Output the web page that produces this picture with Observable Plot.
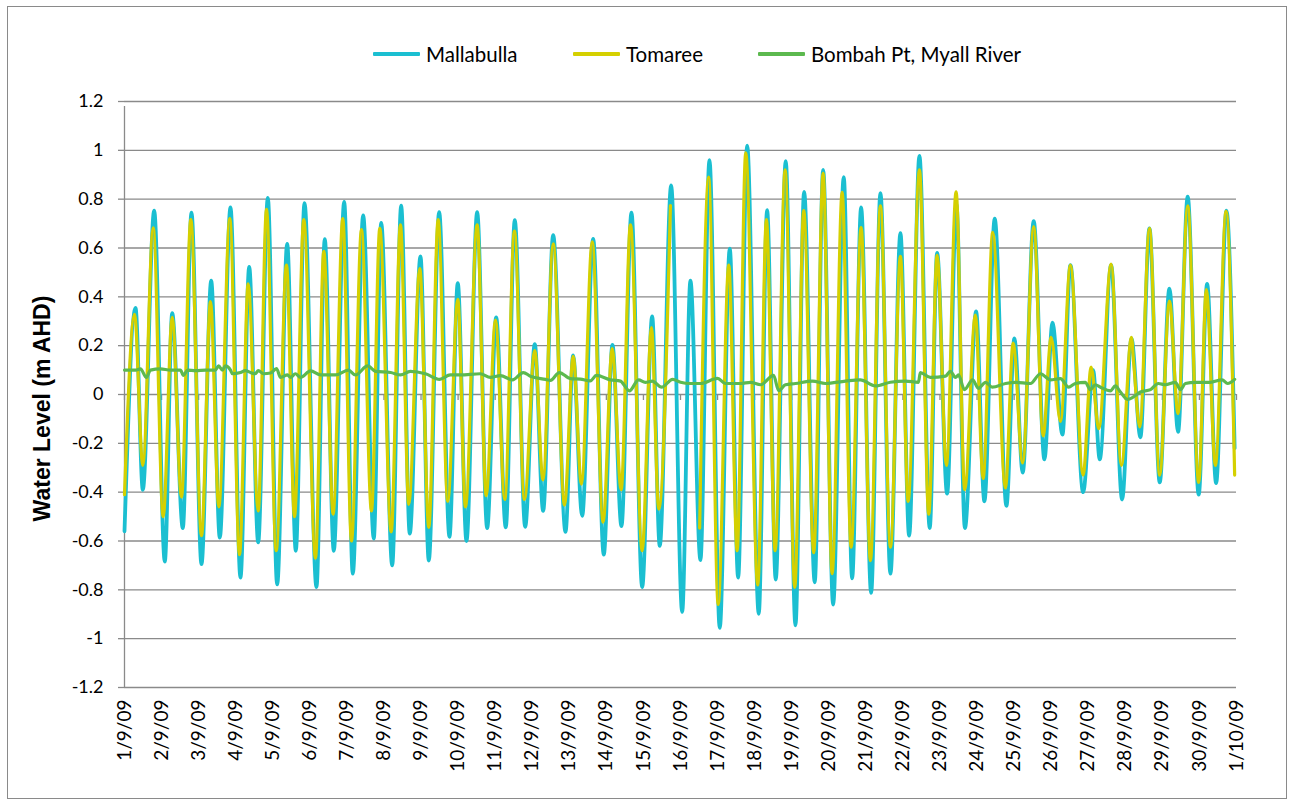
<!DOCTYPE html>
<html>
<head>
<meta charset="utf-8">
<script src="https://cdn.jsdelivr.net/npm/d3@7"></script>
<script src="https://cdn.jsdelivr.net/npm/@observablehq/plot@0.6"></script>
<style>
  html, body { margin: 0; padding: 0; background: #fff; }
  #wrap { position: relative; width: 1294px; height: 805px; overflow: hidden; }
  #border { position: absolute; left: 7px; top: 6px; width: 1280px; height: 793px; border: 1px solid #8a8a8a; box-sizing: border-box; }
  #chart { position: absolute; left: 0; top: 0; }
  .item { position: absolute; top: 42px; height: 24px; display: flex; align-items: center; font-family: Lato, "Open Sans", sans-serif; font-size: 20.5px; color: #000; white-space: nowrap; }
  .swatch { width: 47px; height: 4px; margin-right: 6px; border-radius: 1px; }
</style>
</head>
<body>
<div id="wrap">
  <div id="border"></div>
  <div id="chart"></div>
  <div id="legend"></div>
</div>
<script>
// ---------- data ----------
const seriesNames = ["Mallabulla", "Tomaree", "Bombah Pt, Myall River"];
const seriesColors = ["#1bbfd1", "#d5d000", "#5cb94f"];

const tickLabels = ["1/9/09","2/9/09","3/9/09","4/9/09","5/9/09","6/9/09","7/9/09","8/9/09","9/9/09","10/9/09",
  "11/9/09","12/9/09","13/9/09","14/9/09","15/9/09","16/9/09","17/9/09","18/9/09","19/9/09","20/9/09",
  "21/9/09","22/9/09","23/9/09","24/9/09","25/9/09","26/9/09","27/9/09","28/9/09","29/9/09","30/9/09","1/10/09"];
const yTicks = [-1.2, -1, -0.8, -0.6, -0.4, -0.2, 0, 0.2, 0.4, 0.6, 0.8, 1, 1.2];

// days after 1/9/09 00:00 and water level (m AHD) at each tidal turning point
const mallabullaDay = [0.0,0.297,0.494,0.801,1.087,1.287,1.573,1.807,2.077,2.339,2.571,2.859,3.129,3.364,3.607,3.866,4.119,4.389,4.621,4.856,
  5.179,5.403,5.646,5.927,6.159,6.439,6.725,6.925,7.222,7.464,7.696,7.985,8.209,8.489,8.767,8.991,9.226,9.514,9.784,10.027,
  10.286,10.529,10.809,11.068,11.295,11.565,11.897,12.104,12.347,12.644,12.930,13.164,13.407,13.677,13.966,14.235,14.440,14.748,15.045,15.268,
  15.538,15.781,16.059,16.329,16.555,16.798,17.111,17.337,17.569,17.839,18.101,18.335,18.621,18.848,19.118,19.404,19.630,19.873,20.143,20.394,
  20.664,20.933,21.168,21.446,21.724,21.923,22.193,22.444,22.673,22.975,23.199,23.477,23.793,24.008,24.232,24.529,24.818,25.034,25.304,25.519,
  25.862,26.132,26.310,26.617,26.914,27.165,27.408,27.651,27.928,28.190,28.424,28.683,28.980,29.207,29.450,29.728,29.95];
const mallabullaLevel = [-0.56,0.355,-0.39,0.753,-0.684,0.333,-0.547,0.745,-0.695,0.466,-0.586,0.766,-0.75,0.523,-0.606,0.805,-0.778,0.617,-0.64,0.784,
  -0.789,0.636,-0.64,0.789,-0.734,0.734,-0.59,0.703,-0.7,0.773,-0.57,0.566,-0.68,0.747,-0.583,0.456,-0.6,0.747,-0.547,0.316,
  -0.544,0.714,-0.542,0.206,-0.477,0.653,-0.5625,0.16,-0.497,0.6375,-0.656,0.203,-0.539,0.745,-0.789,0.32,-0.62,0.856,-0.89,0.466,
  -0.678,0.96,-0.956,0.597,-0.75,1.019,-0.898,0.755,-0.758,0.956,-0.945,0.83,-0.769,0.92,-0.86,0.89,-0.753,0.766,-0.8125,0.825,
  -0.734,0.661,-0.578,0.977,-0.547,0.58,-0.406,0.78,-0.547,0.34,-0.4375,0.72,-0.456,0.23,-0.32,0.71,-0.266,0.294,-0.164,0.53,
  -0.4,0.1,-0.266,0.53,-0.43,0.23,-0.175,0.68,-0.36,0.434,-0.153,0.81,-0.41,0.453,-0.3625,0.753,-0.22];

const tomareeDay = [0.0,0.27,0.494,0.774,1.044,1.287,1.538,1.789,2.077,2.320,2.544,2.841,3.102,3.337,3.607,3.831,4.092,4.370,4.586,4.837,
  5.152,5.377,5.629,5.889,6.124,6.393,6.663,6.887,7.195,7.445,7.669,7.966,8.209,8.462,8.721,8.991,9.199,9.514,9.757,10.008,
  10.259,10.520,10.790,11.068,11.29,11.565,11.870,12.104,12.328,12.617,12.913,13.156,13.399,13.650,13.966,14.216,14.413,14.729,15.1,15.517,
  15.760,16.016,16.302,16.528,16.760,17.084,17.318,17.553,17.823,18.082,18.325,18.594,18.848,19.091,19.361,19.603,19.873,20.124,20.394,20.664,
  20.933,21.141,21.446,21.697,21.923,22.174,22.435,22.667,22.955,23.164,23.423,23.766,23.973,24.232,24.529,24.783,24.999,25.250,25.519,25.862,
  26.078,26.283,26.617,26.895,27.165,27.228,27.390,27.651,27.928,28.190,28.424,28.683,28.980,29.186,29.430,29.719,29.95];
const tomareeLevel = [-0.41,0.328,-0.29,0.683,-0.5,0.316,-0.42,0.716,-0.578,0.38,-0.46,0.72,-0.656,0.453,-0.477,0.758,-0.64,0.53,-0.5,0.716,
  -0.67,0.586,-0.49,0.72,-0.6,0.675,-0.477,0.68,-0.5625,0.695,-0.45,0.516,-0.544,0.716,-0.4375,0.39,-0.46,0.695,-0.414,0.305,
  -0.43,0.669,-0.43,0.18,-0.35,0.617,-0.453,0.156,-0.367,0.625,-0.523,0.1875,-0.39,0.695,-0.64,0.274,-0.47,0.774,null,-0.547,
  0.89,-0.86,0.53,-0.64,0.99,-0.78,0.716,-0.64,0.92,-0.79,0.753,-0.648,0.906,-0.734,0.828,-0.625,0.684,-0.68,0.773,-0.625,
  0.566,-0.4375,0.92,-0.49,0.57,-0.29,0.83,-0.39,0.325,-0.344,0.664,-0.383,0.21,-0.28,0.6875,-0.17,0.234,-0.11,0.53,-0.33,
  0.1125,-0.14,0.534,-0.29,0.234,0.125,-0.133,0.68,-0.33,0.383,-0.078,0.773,-0.36,0.43,-0.29,0.75,-0.33];

const bombahDay = [0.0,0.30,0.43,0.59,0.70,0.97,1.24,1.51,1.59,1.70,1.92,2.19,2.45,2.54,2.64,2.72,2.86,2.91,3.13,3.26,
  3.40,3.53,3.61,3.75,3.94,4.10,4.21,4.40,4.48,4.61,4.75,5.02,5.29,5.69,6.04,6.23,6.56,6.77,7.18,7.45,
  7.71,8.12,8.50,8.79,9.06,9.60,9.87,10.14,10.47,10.76,10.95,11.36,11.49,11.73,12.03,12.30,12.57,12.73,13.11,13.38,
  13.62,13.87,14.05,14.24,14.49,14.79,15.0,15.27,15.54,16.0,16.21,16.62,16.89,17.16,17.51,17.65,17.83,18.10,18.56,18.91,
  19.45,19.85,20.26,20.66,21.07,21.42,21.47,21.74,22.15,22.28,22.42,22.50,22.66,22.88,23.04,23.23,23.41,23.77,24.04,24.44,
  24.71,24.98,25.25,25.47,25.65,25.92,26.06,26.19,26.33,26.60,26.73,26.87,27.06,27.22,27.41,27.68,27.89,28.08,28.35,28.49,
  28.62,28.89,29.29,29.61,29.76,29.95];
const bombahLevel = [0.10,0.10,0.105,0.07,0.10,0.105,0.10,0.10,0.078,0.10,0.098,0.10,0.10,0.117,0.10,0.117,0.10,0.085,0.09,0.098,
  0.09,0.085,0.098,0.085,0.088,0.106,0.07,0.08,0.07,0.085,0.07,0.097,0.08,0.08,0.10,0.08,0.117,0.095,0.09,0.08,
  0.095,0.085,0.062,0.08,0.08,0.085,0.07,0.077,0.06,0.09,0.075,0.062,0.058,0.09,0.065,0.063,0.056,0.078,0.06,0.055,
  0.015,0.06,0.05,0.055,0.03,0.062,0.05,0.045,0.045,0.066,0.045,0.045,0.05,0.04,0.078,0.016,0.04,0.045,0.055,0.045,
  0.055,0.06,0.035,0.05,0.055,0.05,0.09,0.07,0.075,0.095,0.07,0.08,0.02,0.06,0.025,0.05,0.03,0.045,0.05,0.045,
  0.085,0.06,0.065,0.03,0.045,0.05,0.02,0.04,0.03,0.015,0.035,0.01,-0.02,-0.01,0.01,0.02,0.045,0.04,0.05,0.02,
  0.045,0.05,0.05,0.06,0.045,0.062];

// ---------- build ----------
const dayMs = 86400000;
const t0 = Date.UTC(2009, 8, 1);
const toDate = d => new Date(t0 + d * dayMs);
const rows = (days, levels) => days.map((d, i) => ({t: toDate(d), v: levels[i] == null ? NaN : levels[i]}));

const mallabulla = rows(mallabullaDay, mallabullaLevel);
const tomaree = rows(tomareeDay, tomareeLevel);
const bombah = rows(bombahDay, bombahLevel);
const tickDates = tickLabels.map((_, i) => toDate(i));
const gridColor = "#8a8a8a";

const chart = Plot.plot({
  width: 1294,
  height: 805,
  marginLeft: 124,
  marginRight: 58,
  marginTop: 101,
  marginBottom: 118,
  style: {fontFamily: "Lato, 'Open Sans', sans-serif", fontSize: "18px", color: "#000", background: "transparent", overflow: "visible"},
  x: {type: "utc", domain: [toDate(0), toDate(30)]},
  y: {domain: [-1.2, 1.2]},
  marks: [
    Plot.gridY(yTicks, {stroke: gridColor, strokeOpacity: 1, strokeWidth: 1.3}),
    Plot.ruleX([toDate(0)], {y1: -1.2, y2: 1.2, insetBottom: -5, stroke: gridColor, strokeWidth: 1.3}),
    Plot.ruleX(tickDates, {y1: 0, y2: 0, insetBottom: -6, stroke: gridColor, strokeWidth: 1.3}),
    Plot.axisY({ticks: yTicks, tickSize: 6, tickPadding: 15, stroke: gridColor, strokeWidth: 1.3,
      tickFormat: d => String(+d.toFixed(1)), label: null, fontSize: 18}),
    Plot.axisX({ticks: tickDates, tickRotate: -90, tickSize: 0, tickPadding: 12, label: null, fontSize: 19,
      tickFormat: d => tickLabels[Math.round((+d - t0) / dayMs)]}),
    Plot.text(["Water Level (m AHD)"], {frameAnchor: "left", textAnchor: "middle", rotate: -90, dx: -82, dy: 14,
      fontWeight: "bold", fontSize: 23, fontFamily: "'Liberation Sans', Arial, sans-serif", fill: "#000"}),
    Plot.line(mallabulla, {x: "t", y: "v", stroke: seriesColors[0], strokeWidth: 3.8, curve: "monotone-x"}),
    Plot.line(tomaree, {x: "t", y: "v", stroke: seriesColors[1], strokeWidth: 3.2, curve: "monotone-x"}),
    Plot.line(bombah, {x: "t", y: "v", stroke: seriesColors[2], strokeWidth: 3.2, curve: "monotone-x"})
  ]
});
document.getElementById("chart").appendChild(chart);

// legend (HTML, above the plot area)
const legendLeft = [373, 573, 758];
const legend = document.getElementById("legend");
seriesNames.forEach((name, i) => {
  const item = document.createElement("div");
  item.className = "item";
  item.style.left = legendLeft[i] + "px";
  const sw = document.createElement("span");
  sw.className = "swatch";
  sw.style.background = seriesColors[i];
  const label = document.createElement("span");
  label.textContent = name;
  item.appendChild(sw);
  item.appendChild(label);
  legend.appendChild(item);
});
</script>
</body>
</html>
